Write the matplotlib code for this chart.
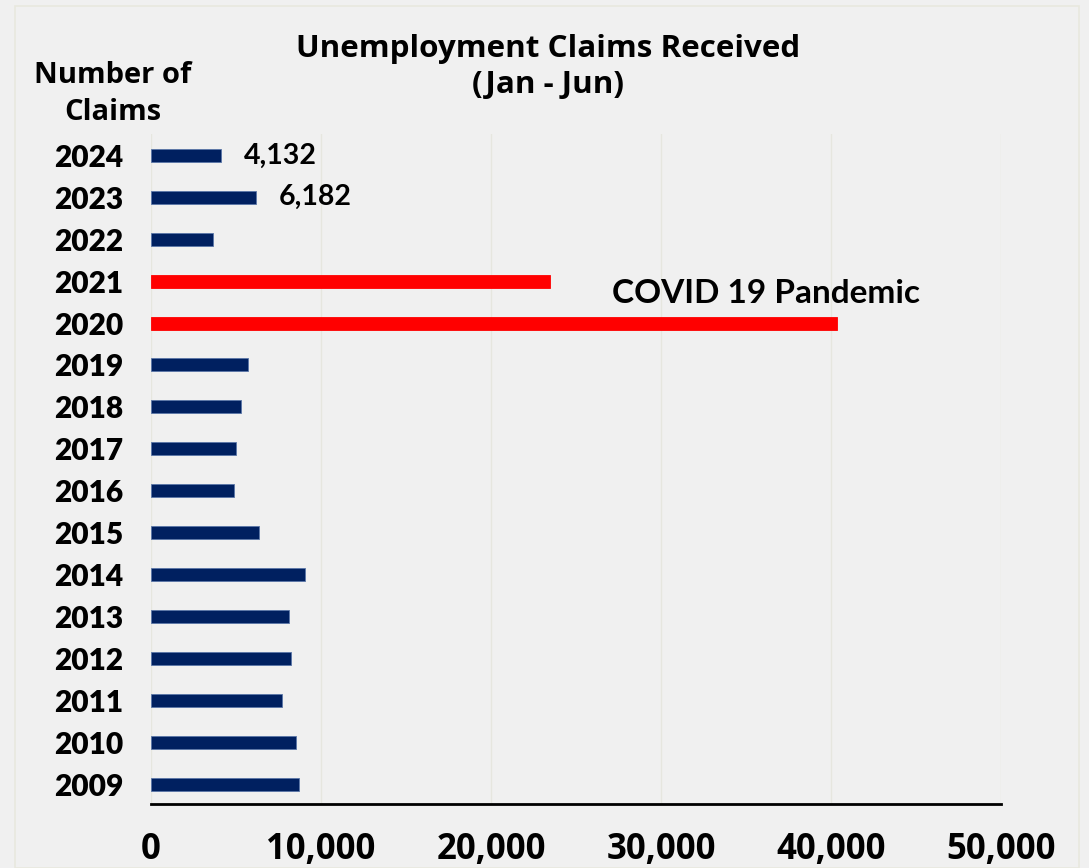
import matplotlib
matplotlib.use("Agg")
import matplotlib.pyplot as plt
from matplotlib.patches import Rectangle

years = ["2009", "2010", "2011", "2012", "2013", "2014", "2015", "2016",
         "2017", "2018", "2019", "2020", "2021", "2022", "2023", "2024"]
claims = [8706, 8510, 7725, 8235, 8118, 9078, 6373, 4863,
          5020, 5276, 5700, 40335, 23470, 3627, 6182, 4132]
highlight_years = ["2020", "2021"]
labeled_years = ["2023", "2024"]
x_ticks = [0, 10000, 20000, 30000, 40000, 50000]
x_tick_labels = ["0", "10,000", "20,000", "30,000", "40,000", "50,000"]

NAVY = "#002060"
RED = "#ff0000"
BG = "#f0f0f0"
WIDE_FONT = ["Lato", "DejaVu Sans"]
NARROW_FONT = ["Open Sans", "DejaVu Sans"]

fig = plt.figure(figsize=(10.89, 8.68), dpi=100, facecolor=BG)
ax = fig.add_axes([151/1089, 1-804/868, 850/1089, (804-134)/868])
ax.set_facecolor(BG)

colors = [RED if y in highlight_years else NAVY for y in years]
ypos = list(range(len(years)))
ax.barh(ypos, claims, height=0.31, color=colors,
        edgecolor=[("#5a76a8" if c == NAVY else RED) for c in colors], linewidth=0.6, zorder=3)

ax.set_xlim(0, 50000)
ax.set_ylim(-0.477, 15.51)
ax.set_xticks(x_ticks)
ax.set_xticklabels(x_tick_labels, fontfamily=NARROW_FONT, fontweight="bold", fontsize=25)
ax.set_yticks(ypos)
ax.set_yticklabels(years, fontfamily=WIDE_FONT, fontweight="heavy", fontsize=21.5)
ax.tick_params(axis="both", length=0)
ax.tick_params(axis="x", pad=20)
ax.tick_params(axis="y", pad=20)

for s in ["top", "right", "left"]:
    ax.spines[s].set_visible(False)
ax.spines["bottom"].set_linewidth(2)
ax.spines["bottom"].set_color("black")

ax.grid(axis="x", color="#e6e6df", linewidth=1.0, zorder=0)
ax.set_axisbelow(True)

for y, v, yr in zip(ypos, claims, years):
    if yr in labeled_years:
        ax.annotate(f"{v:,}", xy=(v, y), xytext=(16, 0), textcoords="offset points",
                    ha="left", va="center", fontfamily=WIDE_FONT, fontweight="bold",
                    fontsize=20.5)

ax.text(27118, 11.70, "COVID 19 Pandemic", ha="left", va="center",
        fontfamily=WIDE_FONT, fontweight="bold", fontsize=24)

fig.text(548/1089, 1-67/868, "Unemployment Claims Received\n(Jan - Jun)", ha="center",
         va="center", fontfamily=NARROW_FONT, fontweight="bold", fontsize=22.6,
         linespacing=1.25)
fig.text(113/1089, 1-94/868, "Number of\nClaims", ha="center", va="center",
         fontfamily=NARROW_FONT, fontweight="bold", fontsize=21, linespacing=1.35)

fig.patches.append(Rectangle((15/1089, 0), (1079-15)/1089, 1-6/868,
                             transform=fig.transFigure, fill=False,
                             edgecolor="#e8e8de", linewidth=1.2))

fig.savefig("out.png", dpi=100, facecolor=BG)
